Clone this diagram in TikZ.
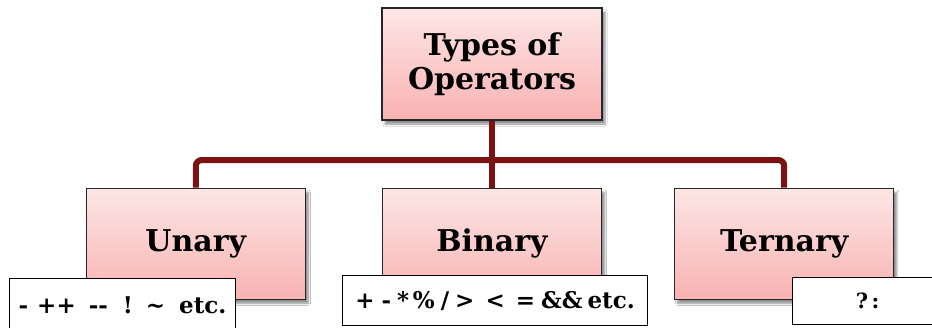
\documentclass[tikz,border=0pt]{standalone}
\usepackage{fontspec}
\setmainfont{DejaVu Serif}
\usetikzlibrary{positioning, shadows.blur}

\definecolor{linkred}{RGB}{122,18,18}
\definecolor{pinktop}{RGB}{253,230,230}
\definecolor{pinkbottom}{RGB}{249,178,178}

\begin{document}
\begin{tikzpicture}[
        x=1pt, y=-1pt,
        node distance=67pt and 76pt,
        typebox/.style={
            rectangle,
            draw=black!85,
            line width=1.2pt,
            top color=pinktop,
            bottom color=pinkbottom,
            align=center,
            minimum width=219pt,
            minimum height=111pt,
            font=\bfseries\fontsize{30}{34}\selectfont,
            blur shadow={shadow xshift=3pt, shadow yshift=-4pt, shadow opacity=45, shadow blur steps=6}
        },
        opsbox/.style={
            rectangle,
            draw=black,
            line width=1.2pt,
            fill=white,
            anchor=north west,
            minimum height=48pt,
            inner sep=0pt,
            font=\bfseries\fontsize{23}{26}\selectfont
        },
        link/.style={
            draw=linkred,
            line width=6pt,
            rounded corners=6pt
        }
        ]
        \clip (0,0) rectangle (932,327);
        \fill[white] (0,0) rectangle (932,327);

        % Root and the three kinds
        \node[typebox, minimum width=220pt, minimum height=112pt] (top) at (492,64) {Types of\\Operators};
        \node[typebox, below=67pt of top] (binary) {Binary};
        \node[typebox, left=76pt of binary] (unary) {Unary};
        \node[typebox, right=72pt of binary] (ternary) {Ternary};

        % Tree connectors
        \coordinate (bus) at (top.south |- 0,160);
        \draw[link] (top.south) -- (binary.north);
        \draw[link] (unary.north) |- (bus) -| (ternary.north);

        % Operator lists
        \node[opsbox, minimum width=226pt, minimum height=54pt] (unaryops) at (9,278)
            {-\hspace{9pt}++\hspace{13pt}{-}{-}\hspace{15pt}!\hspace{13pt}\textasciitilde\hspace{14pt}etc.};
        \node[opsbox, minimum width=305pt, minimum height=50pt] (binaryops) at (342,275)
            {+\hspace{7pt}-\hspace{6pt}*\,\%\hspace{6pt}/\hspace{6pt}>\hspace{11pt}<\hspace{11pt}=\hspace{6pt}\&\&\hspace{5pt}etc.};
        \node[opsbox, minimum width=150pt, minimum height=47pt, font=\bfseries\fontsize{21}{24}\selectfont] (ternaryops) at (792,277)
            {?\,:};
    \end{tikzpicture}
\end{document}
